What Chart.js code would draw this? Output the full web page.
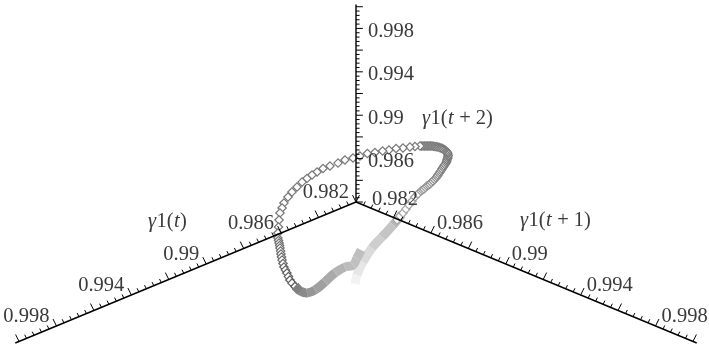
<!DOCTYPE html>
<html>
<head>
<meta charset="utf-8">
<title>Delay embedding of y1(t)</title>
<script src="https://cdn.jsdelivr.net/npm/chart.js@4"></script>
<style>
    html, body { margin: 0; padding: 0; background: #fff; }
    #chart { display: block; }
</style>
</head>
<body>
<canvas id="chart" width="709" height="350"></canvas>
<script>
// axis values
const axisStart = 0.982;
const axisEnd = 1.0002;
const majorTicks = [0.982, 0.984, 0.986, 0.988, 0.99, 0.992, 0.994, 0.996, 0.998, 1.0];
const minorSteps = [0.0004, 0.0008, 0.0012, 0.0016];
const tickLabels = [0.982, 0.986, 0.99, 0.994, 0.998];

// curve, as (y1(t+1) - y1(t)) and projected height
const tailSpread = [-0.00005, 0.00005, 0.00037, 0.00085, 0.00139, 0.00198, 0.00246];
const tailHeight = [0.97444, 0.97527, 0.97647, 0.97776, 0.97877, 0.97988, 0.98089];

const diamondSpread = [
    0.00219, 0.00235, 0.00251, 0.00267, 0.00283, 0.00299, 0.00315, 0.00331,
    0.00347, 0.00355, 0.00363, 0.00371, 0.00379, 0.00387, 0.00395, 0.00403, 0.00411, 0.00419,
    0.00427, 0.00433, 0.00438, 0.00444, 0.00449, 0.00454, 0.00459, 0.00465, 0.0047, 0.00475,
    0.00481, 0.00484, 0.00486, 0.00489, 0.00491, 0.00492, 0.00491, 0.00489, 0.00486, 0.00481,
    0.00475, 0.0047, 0.00465, 0.00459, 0.00454, 0.00446, 0.00438, 0.0043, 0.00422, 0.00414,
    0.00406, 0.00398, 0.0039, 0.00382, 0.00374, 0.00366, 0.00358, 0.0035, 0.00342,
    0.00315, 0.00288, 0.00251, 0.00214, 0.00176, 0.00142, 0.00101,
    0.00061, 0.00021, -0.00016, -0.00059, -0.00096, -0.00139, -0.00176, -0.00208, -0.00235, -0.00262,
    -0.00288, -0.00315, -0.00342, -0.00363, -0.00385, -0.00395, -0.00406, -0.00411, -0.00414, -0.00417,
    -0.00417, -0.00414, -0.00411, -0.00408, -0.00406, -0.00403, -0.00401, -0.00398, -0.00395, -0.0039,
    -0.00385, -0.00377, -0.00369, -0.00361, -0.00353, -0.00342, -0.00326, -0.0031
];
const diamondHeight = [
    0.98034, 0.98071, 0.98099, 0.98135, 0.98172, 0.98209, 0.98246, 0.98274,
    0.98301, 0.98311, 0.9832, 0.98334, 0.98347, 0.98356, 0.98366, 0.9838, 0.98394, 0.98408,
    0.98421, 0.98435, 0.98449, 0.98463, 0.98477, 0.9849, 0.98504, 0.98518, 0.98532, 0.98546,
    0.98559, 0.98573, 0.98587, 0.98601, 0.98615, 0.98628, 0.98642, 0.98652, 0.98661, 0.9867,
    0.98679, 0.98684, 0.98689, 0.98694, 0.98698, 0.98703, 0.98707, 0.9871, 0.98712, 0.98714,
    0.98716, 0.98716, 0.98716, 0.98716, 0.98716, 0.98716, 0.98716, 0.98716, 0.98716,
    0.98712, 0.98707, 0.98698, 0.98693, 0.98679, 0.9867, 0.98656,
    0.98647, 0.98624, 0.98606, 0.98587, 0.98559, 0.98532, 0.98509, 0.98477, 0.98449, 0.98417,
    0.98384, 0.98338, 0.98292, 0.98246, 0.98191, 0.98145, 0.98099, 0.98034, 0.9797, 0.97914,
    0.97868, 0.97845, 0.97822, 0.97799, 0.97776, 0.97748, 0.97721, 0.97693, 0.97665, 0.97633,
    0.97601, 0.97574, 0.97546, 0.97513, 0.97481, 0.97453, 0.97421, 0.97398
];

const endSpread = [-0.00326, -0.00299, -0.00262, -0.00219, -0.00166, -0.00112, -0.00059, -0.00016, 0.00005, 0.00027];
const endHeight = [0.97426, 0.9738, 0.97361, 0.97389, 0.97463, 0.97546, 0.97601, 0.97619, 0.97684, 0.97758];

// the three axes share one oblique projection onto the plane of the page
const tilt = 0.714;
const project = (a, b, c) => ({
    x: b - a,
    y: c - tilt * (a + b - 2 * axisStart)
});

const pairUp = (xs, ys) => xs.map((x, i) => ({ x: x, y: ys[i] }));
const gray = (v) => `rgb(${v},${v},${v})`;

// one point along each axis
const onAxis = [
    (v) => [v, axisStart, axisStart],
    (v) => [axisStart, v, axisStart],
    (v) => [axisStart, axisStart, v]
];
// which way the ticks lean, per axis
const tickLean = [
    [0, -0.00016, 0.00044],
    [-0.00016, 0, 0.00044],
    [-0.00016, 0.00016, 0]
];

const axisPoints = [];
onAxis.forEach((at) => {
    axisPoints.push(project(...at(axisStart)), project(...at(axisEnd)), { x: NaN, y: NaN });
});

const tickPoints = [];
const addTick = (axis, value, size) => {
    const p = onAxis[axis](value);
    const lean = tickLean[axis];
    tickPoints.push(
        project(...p),
        project(p[0] + lean[0] * size, p[1] + lean[1] * size, p[2] + lean[2] * size),
        { x: NaN, y: NaN }
    );
};
onAxis.forEach((at, axis) => {
    majorTicks.forEach((tick, i) => {
        addTick(axis, tick, 1.15);
        if (i < majorTicks.length - 1) {
            minorSteps.forEach((step) => addTick(axis, tick + step, 0.6));
        }
    });
});

const tailShades = [242, 230, 218, 206, 196, 184, 172];
const endShades = [128, 138, 150, 160, 170, 180, 188, 192, 190, 184];

const diamondShade = (i) => {
    if (i < 30) return Math.round(165 - 1.5 * i);
    if (i < 84) return 120;
    return Math.round(120 - 2 * (i - 84));
};

// text labels drawn on the canvas, positioned from the axis values
const serif = '"Liberation Serif", serif';
const titleRuns = [
    { at: [148, 222], runs: [['γ', 1], ['1(', 0], ['t', 1], [')', 0]] },
    { at: [520, 221], runs: [['γ', 1], ['1(', 0], ['t', 1], [' + 1)', 0]] },
    { at: [422, 119], runs: [['γ', 1], ['1(', 0], ['t', 1], [' + 2)', 0]] }
];

const labelPlugin = {
    id: 'labels',
    afterDraw(chart) {
        const ctx = chart.ctx;
        const sx = chart.scales.x;
        const sy = chart.scales.y;
        ctx.save();
        ctx.fillStyle = '#3a3a3a';
        ctx.textBaseline = 'middle';
        ctx.font = `20.5px ${serif}`;

        tickLabels.forEach((tick) => {
            const text = String(tick);
            const left = project(...onAxis[0](tick));
            const right = project(...onAxis[1](tick));
            const up = project(...onAxis[2](tick));

            ctx.textAlign = 'right';
            ctx.fillText(text, sx.getPixelForValue(left.x) - 7, sy.getPixelForValue(left.y) - 9);

            ctx.textAlign = 'left';
            const first = tick === axisStart;
            ctx.fillText(text, sx.getPixelForValue(right.x) + (first ? 16 : 6), sy.getPixelForValue(right.y) - (first ? 2 : 9));
            if (!first) {
                ctx.fillText(text, sx.getPixelForValue(up.x) + 12, sy.getPixelForValue(up.y) + 3);
            }
        });

        ctx.textAlign = 'left';
        titleRuns.forEach((title) => {
            let x = title.at[0];
            title.runs.forEach((run) => {
                ctx.font = `${run[1] ? 'italic ' : ''}20.5px ${serif}`;
                ctx.fillText(run[0], x, title.at[1]);
                x += ctx.measureText(run[0]).width + 0.4;
            });
        });
        ctx.restore();
    }
};

new Chart(document.getElementById('chart').getContext('2d'), {
    type: 'scatter',
    data: {
        datasets: [
            {
                data: axisPoints,
                showLine: true,
                borderColor: '#000',
                borderWidth: 1.4,
                pointRadius: 0,
                order: 1
            },
            {
                data: tickPoints,
                showLine: true,
                borderColor: '#000',
                borderWidth: 1,
                pointRadius: 0,
                order: 1
            },
            {
                data: pairUp(endSpread, endHeight),
                showLine: true,
                borderWidth: 9,
                tension: 0.4,
                pointRadius: 0,
                segment: { borderColor: (c) => gray(endShades[c.p0DataIndex]) },
                order: 2
            },
            {
                data: pairUp(diamondSpread, diamondHeight),
                pointStyle: 'rectRot',
                pointRadius: 4.2,
                pointBorderWidth: 1.2,
                pointBackgroundColor: '#fff',
                pointBorderColor: diamondSpread.map((v, i) => gray(diamondShade(i))),
                order: 3
            },
            {
                data: pairUp(tailSpread, tailHeight),
                showLine: true,
                borderWidth: 9,
                tension: 0.4,
                pointRadius: 0,
                segment: { borderColor: (c) => gray(tailShades[c.p0DataIndex]) },
                order: 4
            }
        ]
    },
    options: {
        responsive: false,
        animation: false,
        layout: { padding: 0, autoPadding: false },
        plugins: {
            legend: { display: false },
            tooltip: { enabled: false }
        },
        scales: {
            x: { type: 'linear', display: false, min: -0.019017, max: 0.018857 },
            y: { type: 'linear', display: false, min: 0.96836, max: 1.00062 }
        }
    },
    plugins: [labelPlugin]
});
</script>
</body>
</html>
